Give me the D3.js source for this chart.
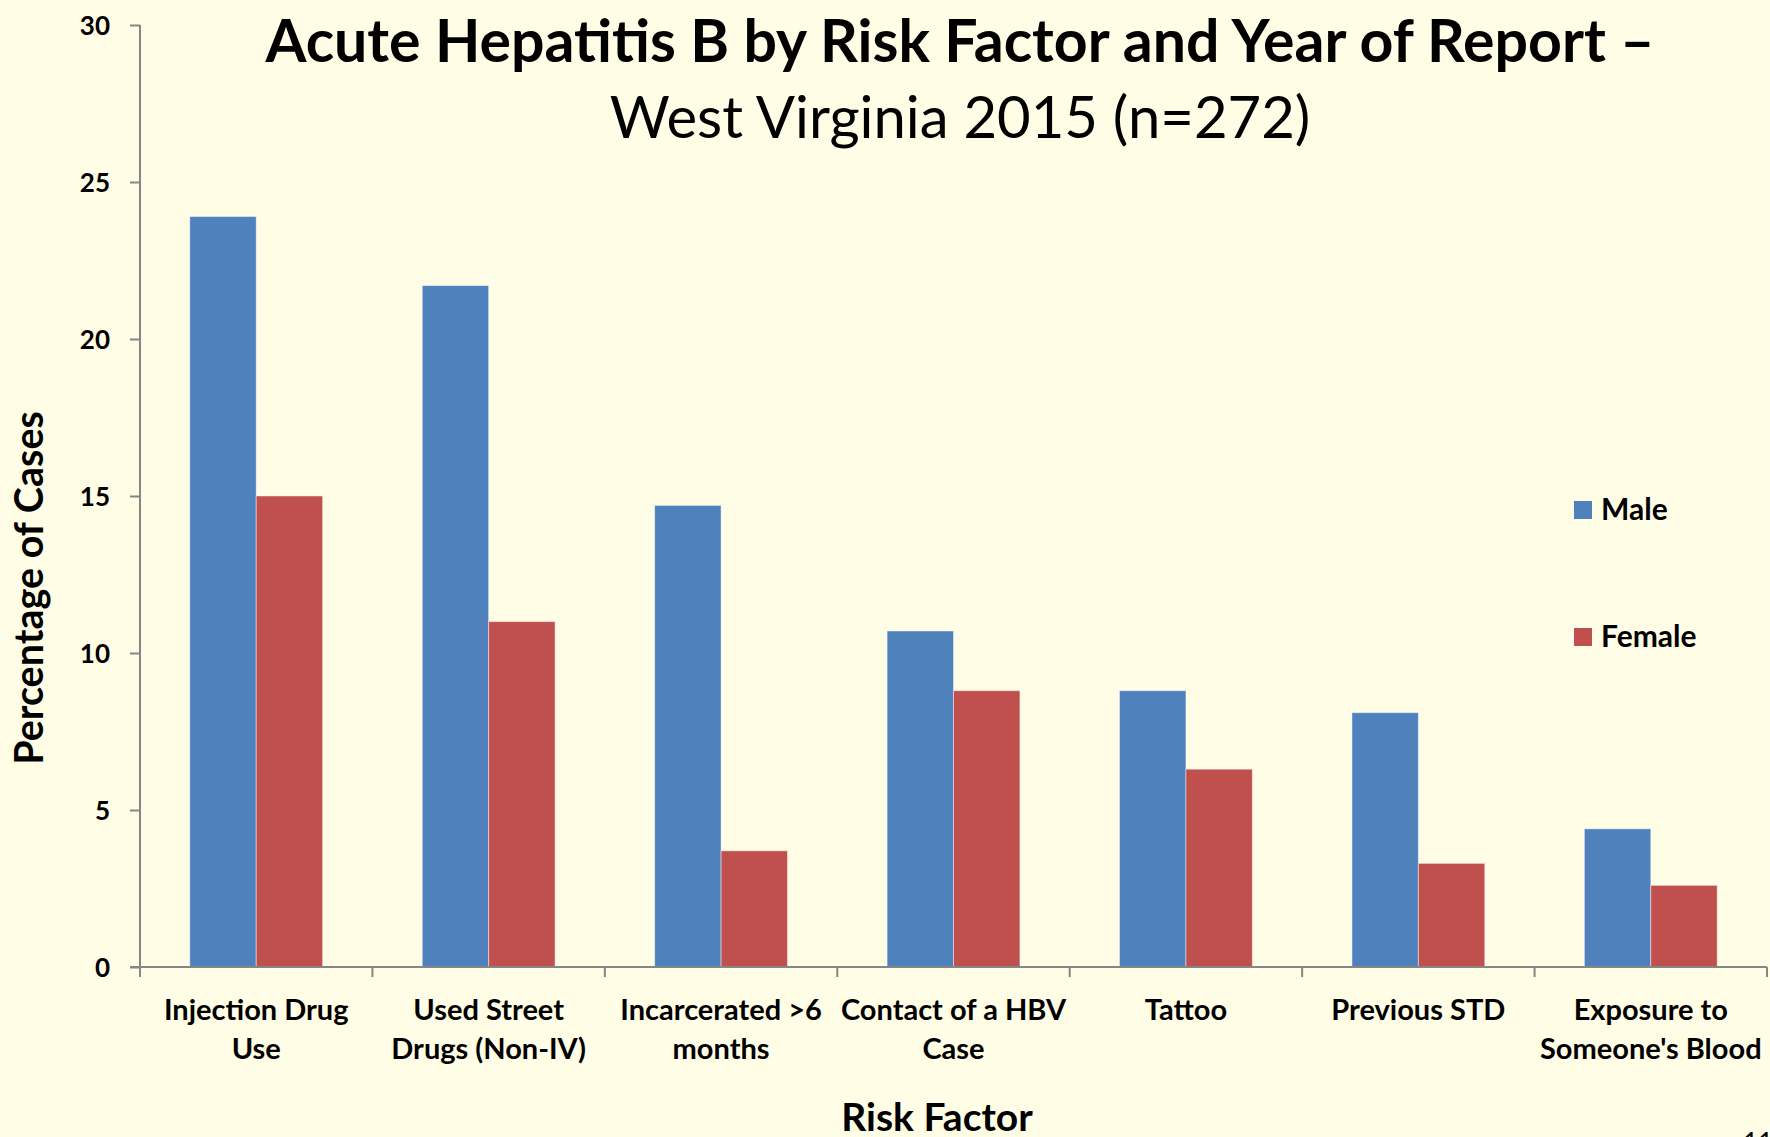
<!DOCTYPE html>
<html>
<head>
<meta charset="utf-8">
<script src="https://cdn.jsdelivr.net/npm/d3@7"></script>
<style>
  html, body { margin: 0; padding: 0; background: #FFFDE5; }
  svg { display: block; font-family: Lato, "Open Sans", sans-serif; }
</style>
</head>
<body>
<div id="chart"></div>
<script>
// Risk factors (label lines as shown under the axis)
const categories = [
    ["Injection Drug", "Use"],
    ["Used Street", "Drugs (Non-IV)"],
    ["Incarcerated >6", "months"],
    ["Contact of a HBV", "Case"],
    ["Tattoo"],
    ["Previous STD"],
    ["Exposure to", "Someone's Blood"]
];
const series = ["Male", "Female"];
const male = [23.9, 21.7, 14.7, 10.7, 8.8, 8.1, 4.4];
const female = [15.0, 11.0, 3.7, 8.8, 6.3, 3.3, 2.6];
const yTicks = [0, 5, 10, 15, 20, 25, 30];

const width = 1770, height = 1137;
const margin = { top: 25, right: 3, bottom: 170, left: 140 };

const svg = d3.select("#chart").append("svg")
    .attr("width", width).attr("height", height);

svg.append("rect").attr("width", width).attr("height", height).attr("fill", "#FFFDE5");

const keys = categories.map(d => d.join(" "));
const rows = keys.map((k, i) => ({ key: k, lines: categories[i], Male: male[i], Female: female[i] }));

const x0 = d3.scaleBand()
    .domain(keys)
    .range([margin.left, width - margin.right])
    .padding(0);

// Excel-like gap width of 150%
const x1 = d3.scaleBand()
    .domain(series)
    .range([0, x0.bandwidth()])
    .paddingInner(0)
    .paddingOuter(0.75);

const y = d3.scaleLinear()
    .domain([0, 30])
    .range([height - margin.bottom, margin.top]);

const color = d3.scaleOrdinal()
    .domain(series)
    .range(["#4F81BD", "#C0504D"]);

// bars
const groups = svg.selectAll("g.cat")
    .data(rows)
    .enter().append("g")
    .attr("class", "cat")
    .attr("transform", d => `translate(${x0(d.key)},0)`);

groups.selectAll("rect")
    .data(d => series.map(s => ({ s, v: d[s] })))
    .enter().append("rect")
    .attr("x", d => x1(d.s))
    .attr("y", d => y(d.v))
    .attr("width", x1.bandwidth())
    .attr("height", d => y(0) - y(d.v))
    .attr("fill", d => color(d.s))
    .attr("stroke", "rgba(255,255,255,0.45)")
    .attr("stroke-width", 1);

// y axis
const yAxis = svg.append("g")
    .attr("transform", `translate(${margin.left},0)`)
    .call(d3.axisLeft(y).tickValues(yTicks).tickSize(10).tickPadding(20).tickFormat(d3.format("d")))
    .attr("font-family", null);
yAxis.select(".domain").attr("stroke", "#868686").attr("stroke-width", 2).attr("d", `M0,${y(30)}V${y(0)}`);
yAxis.selectAll(".tick line").attr("stroke", "#868686").attr("stroke-width", 2);
yAxis.selectAll(".tick text")
    .attr("fill", "#000")
    .style("font-size", "26px")
    .style("font-weight", "bold")
    .attr("dy", "0.36em");

// x axis with ticks at category boundaries
const xAxisG = svg.append("g")
    .attr("transform", `translate(0,${y(0)})`);
xAxisG.append("line")
    .attr("x1", margin.left - 10).attr("x2", width - margin.right)
    .attr("stroke", "#868686").attr("stroke-width", 2);
const bounds = keys.map(k => x0(k)).concat([x0.range()[1]]);
xAxisG.selectAll("line.tk")
    .data(bounds)
    .enter().append("line")
    .attr("class", "tk")
    .attr("x1", d => d).attr("x2", d => d)
    .attr("y1", 0).attr("y2", 10)
    .attr("stroke", "#868686").attr("stroke-width", 2);

const catLabels = xAxisG.selectAll("text.cat")
    .data(rows)
    .enter().append("text")
    .attr("class", "cat")
    .attr("text-anchor", "middle")
    .attr("font-size", 29)
    .attr("font-weight", "bold")
    .attr("fill", "#000");
catLabels.selectAll("tspan")
    .data(d => d.lines.map(l => ({ l, cx: x0(d.key) + x0.bandwidth() / 2 })))
    .enter().append("tspan")
    .attr("x", d => d.cx)
    .attr("y", (d, i) => 53 + i * 39)
    .text(d => d.l);

// axis titles
svg.append("text")
    .attr("transform", "translate(43,588) rotate(-90)")
    .attr("text-anchor", "middle")
    .attr("font-size", 39.5)
    .attr("font-weight", "bold")
    .text("Percentage of Cases");

svg.append("text")
    .attr("x", 937).attr("y", 1131)
    .attr("text-anchor", "middle")
    .attr("font-size", 39)
    .attr("font-weight", "bold")
    .text("Risk Factor");

// title
svg.append("text")
    .attr("x", 960).attr("y", 62)
    .attr("text-anchor", "middle")
    .attr("font-size", 59)
    .attr("font-weight", "bold")
    .text("Acute Hepatitis B by Risk Factor and Year of Report \u2013");

svg.append("text")
    .attr("x", 960).attr("y", 138)
    .attr("text-anchor", "middle")
    .attr("font-size", 58)
    .text("West Virginia 2015 (n=272)");

// legend
const legend = svg.append("g").attr("transform", "translate(1574,0)");
const legY = [501, 628];
series.forEach((s, i) => {
    legend.append("rect")
        .attr("x", 0).attr("y", legY[i])
        .attr("width", 18).attr("height", 18)
        .attr("fill", color(s));
    legend.append("text")
        .attr("x", 27).attr("y", legY[i] + 19)
        .attr("font-size", 30)
        .attr("font-weight", "bold")
        .text(s);
});

// slide number
svg.append("text")
    .attr("x", 1743).attr("y", 1152)
    .attr("font-size", 26)
    .text("11");
</script>
</body>
</html>
